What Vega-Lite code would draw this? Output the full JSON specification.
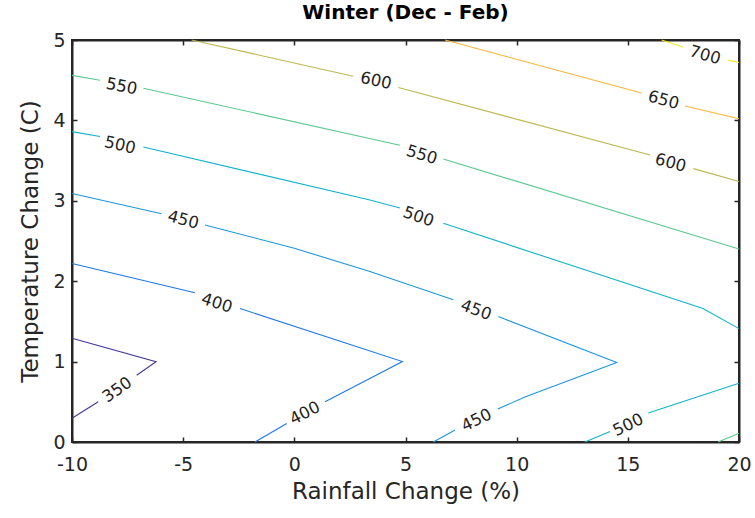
{
  "$schema": "https://vega.github.io/schema/vega-lite/v6.json",
  "width": 667,
  "height": 402,
  "autosize": "none",
  "padding": {"left": 72, "top": 40, "right": 16, "bottom": 76},
  "background": "white",
  "title": {"text": "Winter (Dec - Feb)", "font": "DejaVu Sans", "fontSize": 20, "fontWeight": "bold", "color": "#000000", "offset": 8},
  "config": {
    "view": {"stroke": "#262626", "strokeWidth": 2},
    "axis": {"domainColor": "#262626", "domainWidth": 2, "tickColor": "#262626", "tickWidth": 1.5, "labelColor": "#262626", "titleColor": "#262626", "labelFont": "DejaVu Sans", "titleFont": "DejaVu Sans", "grid": false, "titleFontWeight": "normal"}
  },
  "datasets": {
    "lines": [
      {"seg": "350a", "level": 350, "i": 0, "rain": -10, "temp": 1.29},
      {"seg": "350a", "level": 350, "i": 1, "rain": -6.22, "temp": 1.0},
      {"seg": "350a", "level": 350, "i": 2, "rain": -7.09, "temp": 0.83},
      {"seg": "350b", "level": 350, "i": 0, "rain": -8.82, "temp": 0.5},
      {"seg": "350b", "level": 350, "i": 1, "rain": -10, "temp": 0.295},
      {"seg": "400a", "level": 400, "i": 0, "rain": -10, "temp": 2.22},
      {"seg": "400a", "level": 400, "i": 1, "rain": -4.47, "temp": 1.857},
      {"seg": "400b", "level": 400, "i": 0, "rain": -2.44, "temp": 1.66},
      {"seg": "400b", "level": 400, "i": 1, "rain": 4.86, "temp": 1.0},
      {"seg": "400b", "level": 400, "i": 2, "rain": 3.85, "temp": 0.854},
      {"seg": "400b", "level": 400, "i": 3, "rain": 1.38, "temp": 0.5},
      {"seg": "400c", "level": 400, "i": 0, "rain": -0.34, "temp": 0.23},
      {"seg": "400c", "level": 400, "i": 1, "rain": -1.77, "temp": 0},
      {"seg": "450a", "level": 450, "i": 0, "rain": -10, "temp": 3.09},
      {"seg": "450a", "level": 450, "i": 1, "rain": -5.97, "temp": 2.84},
      {"seg": "450b", "level": 450, "i": 0, "rain": -4.02, "temp": 2.7},
      {"seg": "450b", "level": 450, "i": 1, "rain": 0, "temp": 2.41},
      {"seg": "450b", "level": 450, "i": 2, "rain": 3.4, "temp": 2.12},
      {"seg": "450b", "level": 450, "i": 3, "rain": 7.15, "temp": 1.77},
      {"seg": "450c", "level": 450, "i": 0, "rain": 9.17, "temp": 1.56},
      {"seg": "450c", "level": 450, "i": 1, "rain": 14.5, "temp": 0.99},
      {"seg": "450c", "level": 450, "i": 2, "rain": 10.37, "temp": 0.56},
      {"seg": "450c", "level": 450, "i": 3, "rain": 9.15, "temp": 0.41},
      {"seg": "450d", "level": 450, "i": 0, "rain": 7.23, "temp": 0.15},
      {"seg": "450d", "level": 450, "i": 1, "rain": 6.25, "temp": 0},
      {"seg": "500a", "level": 500, "i": 0, "rain": -10, "temp": 3.86},
      {"seg": "500a", "level": 500, "i": 1, "rain": -8.74, "temp": 3.8},
      {"seg": "500b", "level": 500, "i": 0, "rain": -6.79, "temp": 3.67},
      {"seg": "500b", "level": 500, "i": 1, "rain": 3.4, "temp": 3.01},
      {"seg": "500b", "level": 500, "i": 2, "rain": 4.75, "temp": 2.91},
      {"seg": "500c", "level": 500, "i": 0, "rain": 6.7, "temp": 2.72},
      {"seg": "500c", "level": 500, "i": 1, "rain": 18.38, "temp": 1.66},
      {"seg": "500c", "level": 500, "i": 2, "rain": 20, "temp": 1.41},
      {"seg": "500d", "level": 500, "i": 0, "rain": 20, "temp": 0.73},
      {"seg": "500d", "level": 500, "i": 1, "rain": 15.92, "temp": 0.36},
      {"seg": "500e", "level": 500, "i": 0, "rain": 14.2, "temp": 0.13},
      {"seg": "500e", "level": 500, "i": 1, "rain": 13.07, "temp": 0},
      {"seg": "550a", "level": 550, "i": 0, "rain": -10, "temp": 4.56},
      {"seg": "550a", "level": 550, "i": 1, "rain": -8.74, "temp": 4.5},
      {"seg": "550b", "level": 550, "i": 0, "rain": -6.79, "temp": 4.4},
      {"seg": "550b", "level": 550, "i": 1, "rain": 4.75, "temp": 3.69},
      {"seg": "550c", "level": 550, "i": 0, "rain": 6.7, "temp": 3.52},
      {"seg": "550c", "level": 550, "i": 1, "rain": 20, "temp": 2.4},
      {"seg": "550d", "level": 550, "i": 0, "rain": 19.06, "temp": 0},
      {"seg": "550d", "level": 550, "i": 1, "rain": 20, "temp": 0.11},
      {"seg": "600a", "level": 600, "i": 0, "rain": -4.62, "temp": 5},
      {"seg": "600a", "level": 600, "i": 1, "rain": 2.65, "temp": 4.55},
      {"seg": "600b", "level": 600, "i": 0, "rain": 4.68, "temp": 4.41},
      {"seg": "600b", "level": 600, "i": 1, "rain": 16.0, "temp": 3.57},
      {"seg": "600c", "level": 600, "i": 0, "rain": 17.95, "temp": 3.4},
      {"seg": "600c", "level": 600, "i": 1, "rain": 20, "temp": 3.24},
      {"seg": "650a", "level": 650, "i": 0, "rain": 6.78, "temp": 5},
      {"seg": "650a", "level": 650, "i": 1, "rain": 15.62, "temp": 4.34},
      {"seg": "650b", "level": 650, "i": 0, "rain": 17.57, "temp": 4.18},
      {"seg": "650b", "level": 650, "i": 1, "rain": 20, "temp": 4.02},
      {"seg": "700a", "level": 700, "i": 0, "rain": 16.52, "temp": 5},
      {"seg": "700a", "level": 700, "i": 1, "rain": 17.5, "temp": 4.91},
      {"seg": "700b", "level": 700, "i": 0, "rain": 19.52, "temp": 4.75},
      {"seg": "700b", "level": 700, "i": 1, "rain": 20, "temp": 4.72}
    ],
    "labels": [
      {"id": "350a", "level": 350, "rain": -7.96, "temp": 0.647},
      {"id": "400a", "level": 400, "rain": -3.49, "temp": 1.725},
      {"id": "400b", "level": 400, "rain": 0.48, "temp": 0.357},
      {"id": "450a", "level": 450, "rain": -5.0, "temp": 2.76},
      {"id": "450b", "level": 450, "rain": 8.17, "temp": 1.64},
      {"id": "450c", "level": 450, "rain": 8.2, "temp": 0.27},
      {"id": "500a", "level": 500, "rain": -7.84, "temp": 3.69},
      {"id": "500b", "level": 500, "rain": 5.58, "temp": 2.8},
      {"id": "500c", "level": 500, "rain": 15.02, "temp": 0.21},
      {"id": "550a", "level": 550, "rain": -7.77, "temp": 4.42},
      {"id": "550b", "level": 550, "rain": 5.73, "temp": 3.57},
      {"id": "600a", "level": 600, "rain": 3.67, "temp": 4.49},
      {"id": "600b", "level": 600, "rain": 16.92, "temp": 3.47},
      {"id": "650a", "level": 650, "rain": 16.6, "temp": 4.25},
      {"id": "700a", "level": 700, "rain": 18.47, "temp": 4.81}
    ]
  },
  "layer": [
    {
      "data": {"name": "lines"},
      "mark": {"type": "line", "strokeWidth": 1.1},
      "encoding": {
        "x": {"field": "rain", "type": "quantitative", "scale": {"domain": [-10, 20], "nice": false, "zero": false},
          "axis": {"orient": "bottom", "values": [-10, -5, 0, 5, 10, 15, 20], "tickSize": -5, "labelPadding": 18, "labelFontSize": 19, "labelExpr": "'' + datum.value", "title": "Rainfall Change (%)", "titleFontSize": 23, "titlePadding": 6, "labelFlush": false}},
        "y": {"field": "temp", "type": "quantitative", "scale": {"domain": [0, 5], "nice": false, "zero": false},
          "axis": {"orient": "left", "values": [0, 1, 2, 3, 4, 5], "tickSize": -5, "labelPadding": 12, "labelFontSize": 19, "title": "Temperature Change (C)", "titleFontSize": 23, "titlePadding": 10, "labelFlush": false}},
        "color": {"field": "level", "type": "ordinal", "legend": null,
          "scale": {"domain": [350, 400, 450, 500, 550, 600, 650, 700], "range": ["#41379b", "#1f78e6", "#1e96dc", "#12b3c8", "#5ec890", "#bdb650", "#f7b535", "#f5ea12"]}},
        "detail": {"field": "seg", "type": "nominal"},
        "order": {"field": "i", "type": "quantitative"}
      }
    },
    {
      "data": {"name": "labels"},
      "mark": {"type": "text", "font": "DejaVu Sans", "fontSize": 16.5, "color": "#222222", "align": "center", "baseline": "middle"},
      "encoding": {
        "x": {"field": "rain", "type": "quantitative",
          "axis": {"orient": "top", "values": [-10, -5, 0, 5, 10, 15, 20], "tickSize": -5, "labels": false, "title": null}},
        "y": {"field": "temp", "type": "quantitative",
          "axis": {"orient": "right", "values": [0, 1, 2, 3, 4, 5], "tickSize": -5, "labels": false, "title": null}},
        "text": {"field": "level", "type": "quantitative"},
        "angle": {"field": "id", "type": "nominal", "legend": null,
          "scale": {"type": "ordinal", "domain": ["350a", "400a", "400b", "450a", "450b", "450c", "500a", "500b", "500c", "550a", "550b", "600a", "600b", "650a", "700a"],
            "range": [-35, 18, -27, 15, 20, -26, 13, 19, -26, 11, 17, 12, 15, 15, 16]}}
      }
    }
  ],
  "resolve": {"axis": {"x": "independent", "y": "independent"}}
}
